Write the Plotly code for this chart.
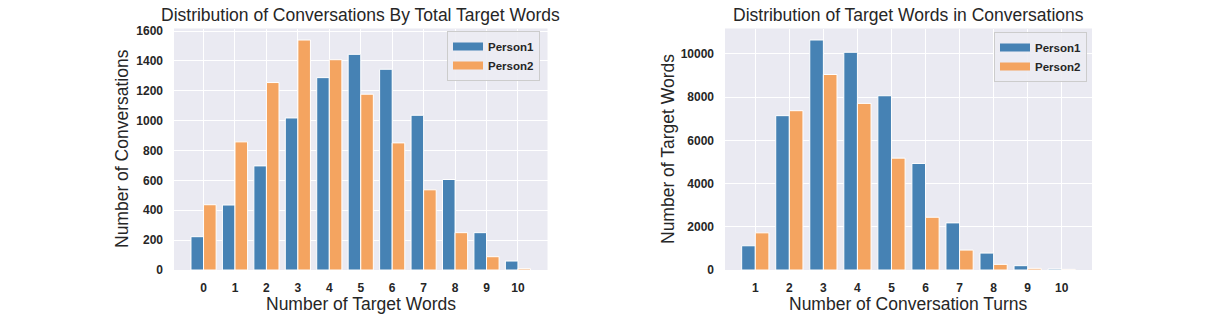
import plotly.graph_objects as go

# datos
words_cats = list(range(0, 11))
words_person1 = [223, 435, 697, 1018, 1288, 1444, 1344, 1036, 606, 250, 60]
words_person2 = [437, 858, 1255, 1540, 1408, 1177, 851, 537, 250, 89, 9]

turn_cats = list(range(1, 11))
turn_person1 = [1121, 7143, 10645, 10077, 8065, 4931, 2181, 783, 200, 46]
turn_person2 = [1720, 7373, 9048, 7711, 5177, 2442, 922, 261, 77, 30]

series_names = ['Person1', 'Person2']

BLUE = '#4682B4'
ORANGE = '#F4A460'
BG = '#EAEAF2'
FONT = 'Liberation Sans, Arial, sans-serif'
colors = [BLUE, ORANGE]

fig = go.Figure()

panels = [
    ('x', 'y', 'legend', words_cats, [words_person1, words_person2]),
    ('x2', 'y2', 'legend2', turn_cats, [turn_person1, turn_person2]),
]

for xa, ya, leg, cats, series in panels:
    for name, vals, col in zip(series_names, series, colors):
        fig.add_trace(go.Bar(x=cats, y=vals, name=name, marker_color=col,
                             marker_line=dict(color='white', width=1),
                             xaxis=xa, yaxis=ya, showlegend=False))
    # entradas de leyenda con muestra rectangular ancha (estilo matplotlib)
    for name, col in zip(series_names, colors):
        fig.add_trace(go.Scatter(x=[None], y=[None], mode='lines', name=name,
                                 line=dict(color=col, width=8),
                                 xaxis=xa, yaxis=ya, legend=leg))

W, H = 1227, 322
y_dom = [(H - 270) / H, (H - 28.5) / H]

axis_common = dict(
    showgrid=True, gridcolor='white', gridwidth=1, zeroline=False,
    showline=False, ticks='', tickformat='d', automargin=False,
    tickfont=dict(family=FONT, size=12, color='#262626', weight='bold'),
)

legend_common = dict(
    bgcolor='rgba(236,236,243,0.9)', bordercolor='#CCCCCC', borderwidth=1,
    font=dict(family=FONT, size=11.5, color='#262626', weight='bold'),
    xanchor='right', yanchor='top', tracegroupgap=0, itemwidth=30,
)

fig.update_layout(
    width=W, height=H,
    margin=dict(l=0, r=0, t=0, b=0, autoexpand=False),
    paper_bgcolor='white',
    plot_bgcolor=BG,
    barmode='group', bargap=0.2, bargroupgap=0,
    showlegend=True,
    xaxis=dict(domain=[174 / W, 547.5 / W], range=[-0.94, 10.94], tickmode='array',
               tickvals=words_cats, anchor='y', ticklabelstandoff=9, **axis_common),
    yaxis=dict(domain=y_dom, range=[0, 1617], tickvals=list(range(0, 1601, 200)),
               anchor='x', ticklabelstandoff=10, **axis_common),
    xaxis2=dict(domain=[725 / W, 1092 / W], range=[0.11, 10.89], tickmode='array',
                tickvals=turn_cats, anchor='y2', ticklabelstandoff=9, **axis_common),
    yaxis2=dict(domain=y_dom, range=[0, 11177], tickvals=list(range(0, 10001, 2000)),
                anchor='x2', ticklabelstandoff=10, **axis_common),
    legend=dict(x=540 / W, y=(H - 31) / H, xref='paper', yref='paper', **legend_common),
    legend2=dict(x=1087 / W, y=(H - 32) / H, xref='paper', yref='paper', **legend_common),
)

# Titulos y etiquetas de ejes
titles = [
    ('Distribution of Conversations By Total Target Words', (174 + 547.5) / 2),
    ('Distribution of Target Words in Conversations', (725 + 1092) / 2),
]
for text, xc in titles:
    fig.add_annotation(text=text, x=xc / W, y=(H - 15) / H, xref='paper', yref='paper',
                       xanchor='center', yanchor='middle', showarrow=False,
                       font=dict(family=FONT, size=17.5, color='#262626'))

xlabels = [('Number of Target Words', (174 + 547.5) / 2), ('Number of Conversation Turns', (725 + 1092) / 2)]
for text, xc in xlabels:
    fig.add_annotation(text=text, x=xc / W, y=(H - 304) / H, xref='paper', yref='paper',
                       xanchor='center', yanchor='middle', showarrow=False,
                       font=dict(family=FONT, size=17.5, color='#262626'))

ylabels = [('Number of Conversations', 122), ('Number of Target Words', 668)]
for text, xc in ylabels:
    fig.add_annotation(text=text, x=xc / W, y=(H - 149) / H, xref='paper', yref='paper',
                       xanchor='center', yanchor='middle', showarrow=False, textangle=-90,
                       font=dict(family=FONT, size=17.5, color='#262626'))

page_fix = ("document.documentElement.style.overflow='hidden';"
            "document.body.style.margin='0';document.body.style.overflow='hidden';")
fig.write_html("out.html", config={'displayModeBar': False}, post_script=page_fix)
